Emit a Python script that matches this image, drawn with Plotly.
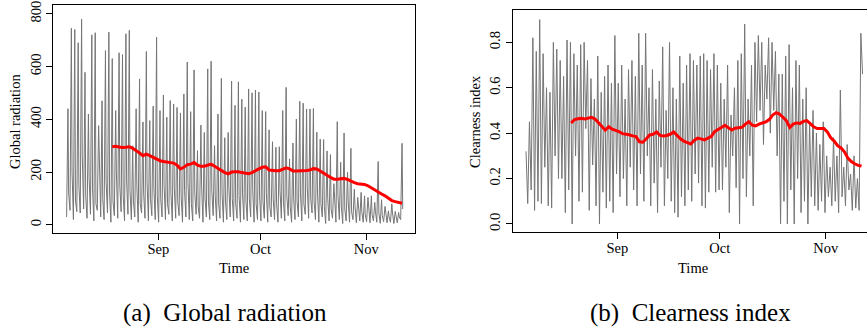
import plotly.graph_objects as go
import pandas as pd

# ---------------- data ----------------
start_date = "2010-08-05"          # first day of the series
ma_first_day = 13                  # moving average starts 13 days later

# Global radiation: per-day peak, trough and secondary (shoulder) values
rad_peak = [
    440, 745, 740, 690, 780, 578, 420, 720, 728, 376, 470, 660, 730, 630, 433, 652, 645, 724, 737, 300, 440, 553, 390, 657, 395, 450, 711,
    433, 492, 408, 471, 458, 445, 424, 496, 617, 429, 587, 281, 378, 350, 591, 620, 300, 420, 555, 330, 350, 545, 453, 542, 476, 446, 515, 500, 511, 503,
    433, 429, 360, 315, 294, 296, 433, 521, 250, 310, 401, 468, 461, 439, 439, 441, 351, 325, 323, 280, 266, 156, 391, 237, 348, 200, 290, 135, 104, 123, 110,
    104, 110, 85, 240, 95, 70, 53, 80, 51, 47, 309,
]
rad_trough = [
    30, 55, 20, 50, 45, 60, 25, 40, 15, 55, 30, 20, 45, 10, 35, 25, 50, 15, 40, 20, 30, 10, 45, 25, 15, 35, 20,
    10, 30, 20, 40, 15, 25, 35, 10, 30, 20, 15, 40, 25, 10, 30, 20, 35, 15, 25, 10, 20, 30, 15, 25, 10, 20, 15, 30, 10, 20,
    15, 25, 10, 30, 20, 10, 25, 15, 35, 10, 20, 30, 15, 40, 25, 45, 20, 10, 30, 5, 15, 25, 10, 20, 5, 15, 10, 20, 8, 15, 10,
    12, 8, 15, 10, 6, 12, 8, 10, 5, 8, 20,
]
rad_shoulder = [
    120, 200, 90, 150, 260, 110, 180, 140, 80, 230, 100, 160, 120, 90, 200, 150, 110, 170, 130, 90, 150, 80, 120, 160, 100, 140, 110,
    100, 150, 80, 120, 140, 90, 110, 130, 160, 80, 120, 70, 150, 100, 90, 130, 110, 80, 120, 90, 140, 100, 80, 110, 120, 90, 100, 130, 80, 110,
    90, 120, 70, 100, 80, 130, 90, 110, 70, 100, 90, 120, 80, 140, 100, 90, 120, 80, 70, 100, 60, 80, 110, 70, 60, 90, 50, 70, 60, 50, 40,
    60, 40, 50, 45, 35, 50, 30, 45, 40, 30, 60,
]
rad_ma = [
    296, 298, 295, 293, 294, 296, 290, 282, 272, 262, 268, 262, 255, 250, 243, 240, 238, 237, 234, 226, 212, 218, 228, 230, 236,
    226, 222, 222, 226, 230, 222, 214, 205, 198, 193, 200, 201, 201, 198, 196, 194, 198, 206, 212, 218, 220, 208, 206, 205, 205,
    210, 216, 212, 204, 204, 204, 205, 206, 208, 213, 212, 205, 198, 188, 180, 173, 173, 175, 176, 172, 165, 160, 156, 154, 153,
    148, 140, 130, 124, 117, 110, 100, 92, 88, 85, 82,
]

# Clearness index: per-day high and low values
ci_high = [
    0.32, 0.45, 0.82, 0.76, 0.90, 0.75, 0.60, 0.58, 0.80, 0.77, 0.72, 0.65, 0.81, 0.80, 0.75, 0.70, 0.79, 0.80, 0.72, 0.64, 0.55, 0.74, 0.58, 0.65, 0.70, 0.62, 0.83,
    0.62, 0.70, 0.55, 0.68, 0.72, 0.65, 0.84, 0.70, 0.84, 0.60, 0.68, 0.55, 0.63, 0.78, 0.50, 0.80, 0.60, 0.55, 0.74, 0.62, 0.70, 0.75, 0.72, 0.70, 0.74, 0.75, 0.72, 0.68, 0.75, 0.70,
    0.62, 0.55, 0.70, 0.48, 0.60, 0.72, 0.75, 0.88, 0.55, 0.70, 0.80, 0.83, 0.80, 0.70, 0.82, 0.80, 0.76, 0.66, 0.66, 0.74, 0.79, 0.60, 0.72, 0.70, 0.55, 0.60, 0.45, 0.50, 0.40, 0.35, 0.45,
    0.30, 0.25, 0.38, 0.30, 0.59, 0.25, 0.35, 0.22, 0.30, 0.20, 0.84,
]
ci_low = [
    0.09, 0.15, 0.06, 0.10, 0.09, 0.25, 0.08, 0.07, 0.30, 0.20, 0.20, 0.05, 0.15, 0.00, 0.30, 0.10, 0.14, 0.42, 0.06, 0.26, 0.08, 0.00, 0.14, 0.07, 0.10, 0.05, 0.22,
    0.12, 0.20, 0.08, 0.25, 0.15, 0.08, 0.22, 0.10, 0.30, 0.08, 0.18, 0.05, 0.25, 0.08, 0.20, 0.10, 0.05, 0.03, 0.12, 0.08, 0.15, 0.10, 0.22, 0.18, 0.08, 0.07, 0.14, 0.25, 0.14, 0.15,
    0.15, 0.25, 0.05, 0.30, 0.16, 0.00, 0.20, 0.12, 0.30, 0.08, 0.45, 0.50, 0.35, 0.55, 0.40, 0.50, 0.30, 0.00, 0.10, 0.00, 0.15, 0.00, 0.20, 0.05, 0.10, 0.00, 0.12, 0.08, 0.06, 0.10, 0.05,
    0.12, 0.08, 0.10, 0.05, 0.12, 0.08, 0.15, 0.06, 0.07, 0.06, 0.66,
]
ci_ma = [
    0.445, 0.460, 0.463, 0.465, 0.462, 0.465, 0.470, 0.462, 0.445, 0.430, 0.413, 0.428, 0.418, 0.412, 0.407, 0.398, 0.396, 0.393,
    0.388, 0.385, 0.362, 0.360, 0.375, 0.392, 0.395, 0.405, 0.390, 0.388, 0.390, 0.395, 0.405, 0.388, 0.375, 0.365, 0.358, 0.352,
    0.368, 0.378, 0.375, 0.370, 0.378, 0.385, 0.407, 0.418, 0.425, 0.435, 0.425, 0.414, 0.422, 0.425, 0.426, 0.440, 0.450, 0.435,
    0.432, 0.440, 0.445, 0.450, 0.460, 0.480, 0.490, 0.484, 0.470, 0.455, 0.425, 0.440, 0.445, 0.443, 0.452, 0.455, 0.442, 0.428,
    0.420, 0.421, 0.420, 0.405, 0.380, 0.365, 0.345, 0.335, 0.318, 0.290, 0.275, 0.265, 0.258, 0.255,
]

month_ticks = ["2010-09-01", "2010-10-01", "2010-11-01"]
month_labels = ["Sep", "Oct", "Nov"]
rad_ticks = [0, 200, 400, 600, 800]
ci_ticks = [0.0, 0.2, 0.4, 0.6, 0.8]
ci_tick_labels = ["0.0", "0.2", "0.4", "0.6", "0.8"]

# ---------------- build time series ----------------
t0 = pd.Timestamp(start_date)


def at(day, frac):
    return t0 + pd.Timedelta(days=day + frac)


rad_x, rad_y = [], []
for d, (lo, pk, sh) in enumerate(zip(rad_trough, rad_peak, rad_shoulder)):
    rad_x += [at(d, 0.1), at(d, 0.5), at(d, 0.7)]
    rad_y += [lo, pk, sh]
rad_ma_x = [at(ma_first_day + i, 0.5) for i in range(len(rad_ma))]

ci_x, ci_y = [], []
for d, (hi, lo) in enumerate(zip(ci_high, ci_low)):
    ci_x += [at(d, 0.3), at(d, 0.8)]
    ci_y += [hi, lo]
ci_ma_x = [at(ma_first_day + i, 0.5) for i in range(len(ci_ma))]

GRAY = "#757575"
RED = "#ff0000"
FONT = "Liberation Serif, Times New Roman, Times, serif"

fig = go.Figure()
fig.add_trace(go.Scatter(x=rad_x, y=rad_y, mode="lines", line=dict(color=GRAY, width=1),
                         xaxis="x", yaxis="y", showlegend=False, hoverinfo="skip"))
fig.add_trace(go.Scatter(x=rad_ma_x, y=rad_ma, mode="lines", line=dict(color=RED, width=3),
                         xaxis="x", yaxis="y", showlegend=False))
fig.add_trace(go.Scatter(x=ci_x, y=ci_y, mode="lines", line=dict(color=GRAY, width=1),
                         xaxis="x2", yaxis="y2", showlegend=False, hoverinfo="skip"))
fig.add_trace(go.Scatter(x=ci_ma_x, y=ci_ma, mode="lines", line=dict(color=RED, width=3),
                         xaxis="x2", yaxis="y2", showlegend=False))

W, H = 867, 334
sep1 = pd.Timestamp("2010-09-01")

common_x = dict(type="date", tickvals=month_ticks, ticktext=month_labels, ticks="outside",
                ticklen=6, tickcolor="black", showline=True, linecolor="black", linewidth=1,
                mirror=True, showgrid=False, zeroline=False, automargin=False,
                ticklabelstandoff=-4,
                tickfont=dict(family=FONT, size=14.5, color="black"))
common_y = dict(ticks="outside", ticklen=6, tickcolor="black", showline=True, linecolor="black",
                linewidth=1, showgrid=False, zeroline=False, tickangle=-90, automargin=False,
                tickfont=dict(family=FONT, size=14.5, color="black"))

fig.update_layout(
    template="none",
    width=W, height=H, autosize=False,
    margin=dict(l=0, r=0, t=0, b=0, pad=0),
    paper_bgcolor="white", plot_bgcolor="white",
    font=dict(family=FONT, color="black"),
    xaxis=dict(common_x, domain=[53.3 / W, 415 / W], anchor="y",
               range=[sep1 - pd.Timedelta(days=30.8), sep1 + pd.Timedelta(days=75.3)]),
    yaxis=dict(common_y, domain=[1 - 233.3 / H, 1 - 5 / H], anchor="x",
               range=[-32, 833], tickvals=rad_ticks, mirror=True),
    xaxis2=dict(common_x, domain=[512.7 / W, 1.0], anchor="y2",
                range=[sep1 - pd.Timedelta(days=30.6), sep1 + pd.Timedelta(days=73.1)]),
    yaxis2=dict(common_y, domain=[1 - 232.3 / H, 1 - 10.3 / H], anchor="x2",
                range=[-0.0366, 0.941], tickvals=ci_ticks, ticktext=ci_tick_labels, mirror=False),
)

ann_font = dict(family=FONT, size=14.5, color="black")
cap_font = dict(family=FONT, size=25, color="black")
annotations = [
    dict(text="Time", x=234 / W, y=1 - 268 / H, xref="paper", yref="paper",
         showarrow=False, font=ann_font, xanchor="center", yanchor="middle"),
    dict(text="Time", x=693 / W, y=1 - 268 / H, xref="paper", yref="paper",
         showarrow=False, font=ann_font, xanchor="center", yanchor="middle"),
    dict(text="Global radiation", x=15 / W, y=1 - 122 / H, xref="paper", yref="paper",
         showarrow=False, font=ann_font, textangle=-90, xanchor="center", yanchor="middle"),
    dict(text="Clearness index", x=475 / W, y=1 - 122 / H, xref="paper", yref="paper",
         showarrow=False, font=ann_font, textangle=-90, xanchor="center", yanchor="middle"),
    dict(text="(a)  Global radiation", x=225 / W, y=1 - 313 / H, xref="paper", yref="paper",
         showarrow=False, font=cap_font, xanchor="center", yanchor="middle"),
    dict(text="(b)  Clearness index", x=690 / W, y=1 - 313 / H, xref="paper", yref="paper",
         showarrow=False, font=cap_font, xanchor="center", yanchor="middle"),
]
fig.update_layout(annotations=annotations)

fig.write_html("out.html", config={"displayModeBar": False},
               post_script="document.body.style.margin='0';")
